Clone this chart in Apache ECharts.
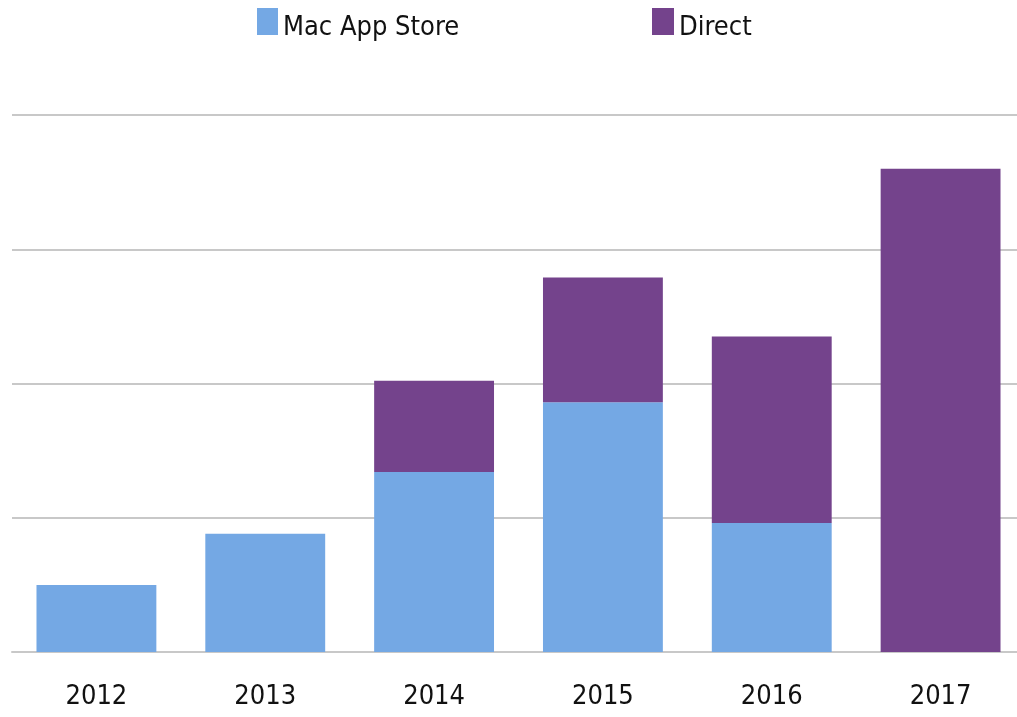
<!DOCTYPE html>
<html><head><meta charset="utf-8">
<script src="https://cdn.jsdelivr.net/npm/echarts@6/dist/echarts.min.js"></script>
<style>html,body{margin:0;padding:0;background:#fff;overflow:hidden}#c{width:1025px;height:717px}</style>
</head><body><div id="c"></div>
<script>
const years = ['2012','2013','2014','2015','2016','2017'];
const macAppStore = [0.50, 0.88, 1.34, 1.86, 0.96, 0];
const direct = [0, 0, 0.68, 0.93, 1.39, 3.60];
const FONT = '"DejaVu Sans Condensed", "Liberation Sans Narrow", "Liberation Sans", sans-serif';
const chart = echarts.init(document.getElementById('c'));
const legendText = {
  fontFamily: FONT, fontSize: 27, color: '#111',
  rich: { t: { fontFamily: FONT, fontSize: 27, color: '#111', padding: [12, 0, 0, 0] } }
};
chart.setOption({
  animation: false,
  backgroundColor: '#fff',
  legend: [
    { top: 3, left: 252, itemWidth: 21, itemHeight: 27, itemGap: 10, icon: 'rect',
      formatter: '{t|{name}}', textStyle: legendText, data: ['Mac App Store'] },
    { top: 3, left: 647, itemWidth: 22, itemHeight: 27, itemGap: 10, icon: 'rect',
      formatter: '{t|{name}}', textStyle: legendText, data: ['Direct'] }
  ],
  grid: { left: 12, top: 115, bottom: 65, right: 0, containLabel: false },
  xAxis: {
    type: 'category', data: years,
    axisTick: { show: false },
    axisLine: { lineStyle: { color: '#c8c8c8', width: 2 } },
    axisLabel: { fontFamily: FONT, fontSize: 27, color: '#111', margin: 31 }
  },
  yAxis: {
    type: 'value', min: 0, max: 4, interval: 1,
    axisLabel: { show: false }, axisLine: { show: false }, axisTick: { show: false },
    splitLine: { lineStyle: { color: '#c8c8c8', width: 2 } }
  },
  series: [
    { name: 'Mac App Store', type: 'bar', stack: 'a', data: macAppStore, barWidth: '71%',
      itemStyle: { color: '#74A8E4' } },
    { name: 'Direct', type: 'bar', stack: 'a', data: direct, barWidth: '71%',
      itemStyle: { color: '#74438C' } }
  ]
});
</script></body></html>
